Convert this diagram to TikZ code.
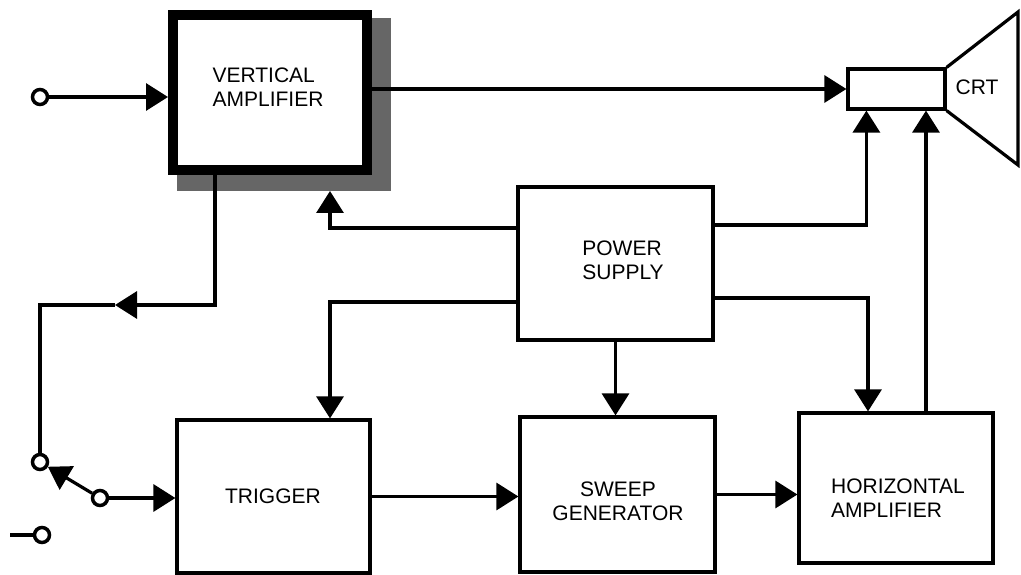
\documentclass[tikz,border=0pt]{standalone}
\usepackage{fontspec}
\setmainfont{Liberation Sans}
\usetikzlibrary{arrows.meta,backgrounds}
\begin{document}
\begin{tikzpicture}[x=1pt,y=-1pt,
  wire/.style={line width=3.2pt},
  tip/.style={-{Triangle[length=22pt,width=27pt]}},
  blk/.style={draw,line width=3.2pt,rectangle,inner sep=0pt,fill=white},
  lbl/.style={font=\fontsize{21}{24}\selectfont,align=left,inner sep=0pt},
  term/.style={draw,circle,line width=3.5pt,minimum size=15pt,inner sep=0pt,fill=white}]
\useasboundingbox (0,0) rectangle (1021,575);
% blocks
\node[blk,line width=10pt,minimum width=194pt,minimum height=155pt] (va) at (270,92.5) {};
\node[lbl] (vat) at (268,87) {VERTICAL\\AMPLIFIER};
\begin{scope}[on background layer]
\fill[black!60] ([shift={(9,8)}]va.north west) rectangle ([shift={(19,16)}]va.south east);
\end{scope}
\node[blk,minimum width=195pt,minimum height=153pt] (ps) at (615.5,263.5) {};
\node[lbl] (pst) at (623,260) {POWER\\SUPPLY};
\node[blk,minimum width=193pt,minimum height=153pt] (trig) at (273.5,496.5) {};
\node[lbl] (trigt) at (273,496) {TRIGGER};
\node[blk,minimum width=195pt,minimum height=155pt] (sweep) at (617.5,494.5) {};
\node[lbl,align=center] (sweept) at (618,501) {SWEEP\\GENERATOR};
\node[blk,minimum width=194pt,minimum height=150pt] (ha) at (896,488) {};
\node[lbl] (hat) at (898,498) {HORIZONTAL\\AMPLIFIER};
\node[blk,minimum width=97pt,minimum height=40pt] (crt) at (896.5,89) {};
\draw[wire,line join=miter] (crt.north east) -- (1018,12) -- (1018,165) -- (crt.south east);
\node[lbl] (crtt) at (977,87) {CRT};
% terminals
\node[term] (in1) at (40,97) {};
\node[term] (s1) at (40,462) {};
\node[term] (sp) at (100,498) {};
\node[term] (s2) at (42,535) {};
\coordinate (s2lead) at (10,535);
\coordinate (fbtip) at (115,305);
\coordinate (hacrt) at ([xshift=30pt]ha.north);
% connectors
\draw[wire,tip] (in1) -- (in1 -| va.west);
\draw[wire,tip] (va.east |- crt.west) -- (crt.west);
\draw[wire,tip] ([yshift=35.5pt]ps.west) -| ([xshift=60pt,yshift=-16pt]va.south);
\draw[wire,tip] ([xshift=-55pt]va.south) |- (fbtip);
\draw[wire] (fbtip) -| (s1);
\draw[wire,tip] ([yshift=-38.5pt]ps.west) -| ([xshift=56.5pt]trig.north);
\draw[wire,tip] (ps.south) -- (ps.south |- sweep.north);
\draw[wire,tip] ([yshift=38.5pt]ps.east) -| ([xshift=20pt]crt.south west);
\draw[wire,tip] ([yshift=-34.5pt]ps.east) -| ([xshift=-28pt]ha.north);
\draw[wire,tip] (hacrt) -- (hacrt |- crt.south);
\draw[wire,tip] (trig.east) -- (trig.east -| sweep.west);
\draw[wire,tip] (sweep.east) -- (sweep.east -| ha.west);
\draw[wire,tip] (sp) -- (sp -| trig.west);
\draw[wire,tip] (sp) -- (s1);
\draw[wire] (s2lead) -- (s2);
\end{tikzpicture}
\end{document}
